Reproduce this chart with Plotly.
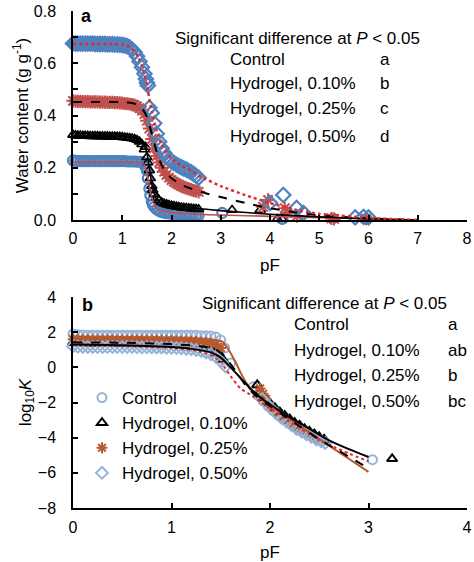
import plotly.graph_objects as go

# ---------------- Panel a : water retention data ----------------
PF_A = [0.00, 0.05, 0.10, 0.15, 0.20, 0.25, 0.30, 0.35, 0.40, 0.45, 0.50, 0.55, 0.60, 0.65,
        0.70, 0.75, 0.80, 0.85, 0.90, 0.95, 1.00, 1.05, 1.10, 1.15, 1.20, 1.25, 1.30, 1.35,
        1.40, 1.45, 1.50, 1.55, 1.60, 1.65, 1.70, 1.75, 1.80, 1.85, 1.90, 1.95, 2.00, 2.05,
        2.10, 2.15, 2.20, 2.25, 2.30, 2.35, 2.40, 2.45, 2.50, 2.55]

WC_CONTROL = [0.228, 0.226, 0.225, 0.225, 0.225, 0.225, 0.225, 0.225, 0.225, 0.225, 0.225, 0.225,
              0.225, 0.225, 0.225, 0.225, 0.225, 0.225, 0.225, 0.225, 0.225, 0.225, 0.224, 0.224,
              0.224, 0.224, 0.223, 0.223, 0.222,
              0.216, 0.19, 0.12, 0.07, 0.05, 0.04, 0.035, 0.03, 0.028, 0.026, 0.025, 0.024, 0.023,
              0.022, 0.021, 0.02, 0.02, 0.019, 0.019, 0.018, 0.018, 0.017, 0.017]
WC_H010 = [0.326, 0.324, 0.323, 0.323, 0.322, 0.322, 0.322, 0.321, 0.321, 0.321, 0.321, 0.320,
           0.320, 0.320, 0.320, 0.319, 0.319, 0.319, 0.318, 0.318, 0.317, 0.316, 0.315, 0.314, 0.312,
           0.31, 0.306, 0.30, 0.29, 0.27, 0.24, 0.19, 0.13, 0.10, 0.085, 0.075, 0.068, 0.063, 0.06,
           0.057, 0.055, 0.053, 0.051, 0.05, 0.048, 0.047, 0.046, 0.045, 0.044, 0.043, 0.042, 0.041]
WC_H025 = [0.456, 0.455, 0.454, 0.454, 0.453, 0.453, 0.453, 0.452, 0.452, 0.452, 0.452, 0.451,
           0.451, 0.451, 0.450, 0.450, 0.450, 0.449, 0.449, 0.448, 0.447, 0.446, 0.445, 0.444, 0.442,
           0.44, 0.435, 0.428, 0.42, 0.405, 0.38, 0.35, 0.31, 0.275, 0.245, 0.22, 0.20, 0.185, 0.172,
           0.162, 0.153, 0.146, 0.14, 0.135, 0.13, 0.126, 0.122, 0.119, 0.116, 0.113, 0.11, 0.108]
WC_H050 = [0.676, 0.675, 0.675, 0.675, 0.675, 0.675, 0.675, 0.675, 0.675, 0.674, 0.674, 0.674,
           0.674, 0.674, 0.673, 0.673, 0.673, 0.672, 0.672, 0.671, 0.670,
           0.668, 0.665, 0.66, 0.652, 0.642, 0.627, 0.607, 0.585, 0.56, 0.525, 0.43, 0.41, 0.37,
           0.33, 0.30, 0.275, 0.257, 0.243, 0.232, 0.224, 0.218, 0.212, 0.207, 0.202, 0.197, 0.193,
           0.188, 0.183, 0.176, 0.169, 0.162]

# extra (transition + dew-point) measurements
PF_CONTROL_X = [1.47, 1.52, 1.57, 1.62, 3.03, 4.25]
WC_CONTROL_X = [0.205, 0.16, 0.095, 0.06, 0.027, 0.004]
PF_H010_X = [1.47, 1.52, 1.57, 1.62, 3.23, 3.80, 4.15, 4.25, 5.95]
WC_H010_X = [0.28, 0.22, 0.16, 0.115, 0.038, 0.038, 0.004, 0.003, 0.002]
PF_H025_X = [3.86, 3.96, 4.30, 4.35, 4.55, 5.25, 5.30, 5.95]
WC_H025_X = [0.05, 0.077, 0.045, 0.027, 0.015, 0.006, 0.004, 0.005]
PF_H050_X = [1.48, 1.52, 4.00, 4.27, 4.54, 4.68, 5.73, 5.90, 6.00]
WC_H050_X = [0.54, 0.515, 0.065, 0.096, 0.046, 0.027, 0.01, 0.012, 0.01]

# fitted retention curves
FIT_CONTROL_PF = [0, 1.0, 1.3, 1.4, 1.45, 1.5, 1.55, 1.6, 1.65, 1.7, 1.8, 2.0, 2.5, 3.0, 4.0, 5.0, 6.0, 7.0]
FIT_CONTROL_WC = [0.222, 0.222, 0.221, 0.218, 0.21, 0.18, 0.13, 0.085, 0.058, 0.045, 0.035, 0.028,
                  0.022, 0.019, 0.014, 0.009, 0.004, 0.0]
FIT_H010_PF = [0, 1.0, 1.2, 1.3, 1.4, 1.45, 1.5, 1.55, 1.6, 1.65, 1.7, 1.8, 2.0, 2.5, 3.0, 4.0, 5.0, 6.0, 7.0]
FIT_H010_WC = [0.322, 0.321, 0.318, 0.312, 0.298, 0.285, 0.255, 0.2, 0.14, 0.1, 0.08, 0.065, 0.055,
               0.045, 0.036, 0.022, 0.012, 0.005, 0.0]
FIT_H025_PF = [0, 1.0, 1.2, 1.3, 1.4, 1.5, 1.6, 1.7, 1.8, 1.9, 2.0, 2.2, 2.4, 2.6, 3.0, 3.5, 4.0,
               4.5, 5.0, 6.0, 7.0]
FIT_H025_WC = [0.452, 0.451, 0.448, 0.442, 0.428, 0.395, 0.33, 0.26, 0.21, 0.18, 0.16, 0.135, 0.12,
               0.107, 0.088, 0.065, 0.045, 0.03, 0.018, 0.006, 0.0]
FIT_H050_PF = [0, 0.8, 1.0, 1.1, 1.2, 1.3, 1.4, 1.5, 1.6, 1.7, 1.8, 1.9, 2.0, 2.2, 2.4, 2.6, 3.0,
               3.5, 4.0, 4.5, 5.0, 6.0, 7.0]
FIT_H050_WC = [0.674, 0.673, 0.671, 0.666, 0.655, 0.632, 0.59, 0.515, 0.415, 0.34, 0.29, 0.258,
               0.235, 0.208, 0.188, 0.165, 0.13, 0.095, 0.065, 0.04, 0.024, 0.008, 0.0]

# ---------------- Panel b : hydraulic conductivity ----------------
PF_B = [0.00, 0.05, 0.10, 0.15, 0.20, 0.25, 0.30, 0.35, 0.40, 0.45, 0.50, 0.55, 0.60, 0.65,
        0.70, 0.75, 0.80, 0.85, 0.90, 0.95, 1.00, 1.05, 1.10, 1.15, 1.20, 1.25, 1.30, 1.35, 1.40]
K_CONTROL = [1.9, 1.85, 1.84, 1.83, 1.83, 1.83, 1.83, 1.83, 1.83, 1.83, 1.83, 1.83, 1.83, 1.83,
             1.83, 1.83, 1.83, 1.83, 1.83, 1.83, 1.83, 1.83, 1.83, 1.82, 1.82, 1.82, 1.8, 1.79, 1.78]
K_H010 = [1.4, 1.38, 1.37, 1.36, 1.36, 1.35, 1.35, 1.35, 1.35, 1.35, 1.35, 1.34, 1.34, 1.34, 1.34,
          1.33, 1.33, 1.33, 1.32, 1.32, 1.31, 1.3, 1.29, 1.28, 1.27, 1.25, 1.22, 1.18, 1.12]
K_H025 = [1.6, 1.58, 1.57, 1.57, 1.56, 1.56, 1.56, 1.56, 1.56, 1.55, 1.55, 1.55, 1.55, 1.55, 1.55,
          1.54, 1.54, 1.54, 1.53, 1.53, 1.52, 1.52, 1.51, 1.5, 1.49, 1.47, 1.45, 1.42, 1.38]
K_H050 = [1.2, 1.17, 1.16, 1.16, 1.16, 1.15, 1.15, 1.15, 1.15, 1.15, 1.15, 1.15, 1.15, 1.14, 1.14,
          1.14, 1.14, 1.13, 1.13, 1.12, 1.11, 1.1, 1.08, 1.06, 1.03, 0.99, 0.93, 0.85, 0.75]

PF_B_CONTROL_X = [1.45, 1.5, 1.54, 1.6, 1.83, 1.88, 1.93, 1.98, 2.03, 2.08, 2.13, 2.18, 2.23, 2.28,
                  2.33, 2.38, 2.43, 2.48, 2.53, 3.04]
K_CONTROL_X = [1.72, 1.55, 1.1, 0.25, -1.1, -1.6, -1.9, -2.2, -2.45, -2.7, -2.9, -3.1, -3.3, -3.45,
               -3.6, -3.75, -3.9, -4.05, -4.2, -5.25]
PF_B_H010_X = [1.45, 1.48, 1.52, 1.87, 1.9, 1.95, 2.0, 2.05, 2.1, 2.15, 2.2, 2.25, 2.3, 2.35, 2.4,
               2.45, 2.5, 2.55, 3.24]
K_H010_X = [1.0, 0.8, 0.45, -1.0, -1.4, -1.75, -2.05, -2.3, -2.55, -2.75, -2.95, -3.15, -3.3, -3.5,
            -3.65, -3.8, -3.95, -4.1, -5.2]
PF_B_H025_X = [1.45, 1.5, 1.9, 1.93, 1.96, 2.0, 2.05, 2.1, 2.15, 2.2, 2.25, 2.3, 2.35, 2.4, 2.45, 2.5]
K_H025_X = [1.3, 1.1, -1.2, -1.5, -1.8, -2.2, -2.5, -2.75, -2.95, -3.15, -3.35, -3.5, -3.65, -3.8,
            -3.95, -4.1]
PF_B_H050_X = [1.45, 1.5, 1.55, 1.92, 1.97, 2.02, 2.07, 2.12, 2.17, 2.22, 2.27, 2.32, 2.37, 2.42,
               2.47, 2.52, 2.56]
K_H050_X = [0.6, 0.35, 0.05, -1.8, -2.1, -2.4, -2.65, -2.9, -3.1, -3.3, -3.5, -3.65, -3.8, -3.95,
            -4.1, -4.2, -4.3]

# fitted conductivity curves
KF_BROWN_PF = [0, 0.5, 1.0, 1.3, 1.45, 1.52, 1.58, 1.65, 1.72, 1.8, 1.9, 2.0, 2.2, 2.4, 2.6, 2.8, 3.0]
KF_BROWN = [1.65, 1.65, 1.63, 1.6, 1.55, 1.45, 1.0, 0.3, -0.5, -1.2, -1.75, -2.2, -2.95, -3.7,
            -4.45, -5.2, -5.95]
KF_BLACK_PF = [0, 0.5, 1.0, 1.2, 1.4, 1.5, 1.6, 1.7, 1.8, 1.9, 2.0, 2.2, 2.4, 2.6, 2.8, 3.0]
KF_BLACK = [1.3, 1.25, 1.15, 1.05, 0.85, 0.55, 0.0, -0.6, -1.2, -1.7, -2.1, -2.85, -3.5, -4.15,
            -4.65, -5.1]
KF_DASH_PF = [0, 0.5, 1.0, 1.3, 1.45, 1.55, 1.65, 1.75, 1.85, 1.95, 2.1, 2.3, 2.5, 2.7, 3.0]
KF_DASH = [1.42, 1.4, 1.32, 1.2, 1.0, 0.55, -0.2, -1.0, -1.6, -2.0, -2.6, -3.35, -4.1, -4.75, -5.75]
KF_DOT_PF = [0, 0.5, 1.0, 1.25, 1.4, 1.5, 1.6, 1.7, 1.8, 1.9, 2.0, 2.2, 2.4, 2.6, 2.8, 3.0]
KF_DOT = [1.25, 1.2, 1.1, 0.95, 0.7, 0.3, -0.5, -1.2, -1.55, -1.95, -2.35, -3.1, -3.8, -4.4, -4.9,
          -5.35]

# ---------------- text ----------------
SERIES_NAMES = ["Control", "Hydrogel, 0.10%", "Hydrogel, 0.25%", "Hydrogel, 0.50%"]
LETTERS_A = ["a", "b", "c", "d"]
LETTERS_B = ["a", "ab", "b", "bc"]
SIG_TEXT = "Significant difference at <i>P</i> < 0.05"
YA_TICKS = [0.0, 0.2, 0.4, 0.6, 0.8]
XA_TICKS = [0, 1, 2, 3, 4, 5, 6, 7, 8]
XB_TICKS = [0, 1, 2, 3, 4]
YB_TICKS = [4, 2, 0, -2, -4, -6, -8]

# ---------------- styling ----------------
FONT = "Liberation Sans, Arial, sans-serif"
BLUE = "#4F81BD"
RED = "#C0504D"
LBLUE = "#95B3D7"
BROWN = "#B8582E"
DOTRED = "#E8272A"

W, H = 474, 562
L, R, T, B = 73, 467, 11, 508


def px(x):
    return (x - L) / (R - L)


def py(y):
    return (B - y) / (B - T)


fig = go.Figure()

# panel a markers
fig.add_trace(go.Scatter(x=PF_A + PF_CONTROL_X, y=WC_CONTROL + WC_CONTROL_X, mode="markers",
                         marker=dict(symbol="circle-open", size=10, color=BLUE, line=dict(width=2.2)),
                         showlegend=False, cliponaxis=False, xaxis="x", yaxis="y"))
fig.add_trace(go.Scatter(x=PF_A + PF_H010_X, y=WC_H010 + WC_H010_X, mode="markers",
                         marker=dict(symbol="triangle-up-open", size=9, color="black", line=dict(width=1.6)),
                         showlegend=False, cliponaxis=False, xaxis="x", yaxis="y"))
fig.add_trace(go.Scatter(x=PF_A + PF_H025_X, y=WC_H025 + WC_H025_X, mode="markers",
                         marker=dict(symbol="asterisk-open", size=11, color=RED, line=dict(width=2, color=RED)),
                         showlegend=False, cliponaxis=False, xaxis="x", yaxis="y"))
fig.add_trace(go.Scatter(x=PF_A + PF_H050_X, y=WC_H050 + WC_H050_X, mode="markers",
                         marker=dict(symbol="diamond-open", size=11, color=BLUE, line=dict(width=2.2)),
                         showlegend=False, cliponaxis=False, xaxis="x", yaxis="y"))
# panel a fitted lines
fig.add_trace(go.Scatter(x=FIT_CONTROL_PF, y=FIT_CONTROL_WC, mode="lines",
                         line=dict(color=RED, width=1.6, shape="spline", smoothing=0.6),
                         showlegend=False, xaxis="x", yaxis="y"))
fig.add_trace(go.Scatter(x=FIT_H010_PF, y=FIT_H010_WC, mode="lines",
                         line=dict(color="black", width=1.6, shape="spline", smoothing=0.6),
                         showlegend=False, xaxis="x", yaxis="y"))
fig.add_trace(go.Scatter(x=FIT_H025_PF, y=FIT_H025_WC, mode="lines",
                         line=dict(color="black", width=2, dash="dash", shape="spline", smoothing=0.6),
                         showlegend=False, xaxis="x", yaxis="y"))
fig.add_trace(go.Scatter(x=FIT_H050_PF, y=FIT_H050_WC, mode="lines",
                         line=dict(color=DOTRED, width=2.5, dash="dot", shape="spline", smoothing=0.6),
                         showlegend=False, xaxis="x", yaxis="y"))

# panel b markers (legend)
fig.add_trace(go.Scatter(x=PF_B + PF_B_CONTROL_X, y=K_CONTROL + K_CONTROL_X, mode="markers",
                         name=SERIES_NAMES[0], legendgroup="g1",
                         marker=dict(symbol="circle-open", size=9, color=LBLUE, line=dict(width=2)),
                         cliponaxis=False, xaxis="x2", yaxis="y2"))
fig.add_trace(go.Scatter(x=PF_B + PF_B_H010_X, y=K_H010 + K_H010_X, mode="markers",
                         name=SERIES_NAMES[1], legendgroup="g2",
                         marker=dict(symbol="triangle-up-open", size=9, color="black", line=dict(width=2)),
                         cliponaxis=False, xaxis="x2", yaxis="y2"))
fig.add_trace(go.Scatter(x=PF_B + PF_B_H025_X, y=K_H025 + K_H025_X, mode="markers",
                         name=SERIES_NAMES[2], legendgroup="g3",
                         marker=dict(symbol="asterisk-open", size=9, color=BROWN, line=dict(width=2, color=BROWN)),
                         cliponaxis=False, xaxis="x2", yaxis="y2"))
fig.add_trace(go.Scatter(x=PF_B + PF_B_H050_X, y=K_H050 + K_H050_X, mode="markers",
                         name=SERIES_NAMES[3], legendgroup="g4",
                         marker=dict(symbol="diamond-open", size=9, color=LBLUE, line=dict(width=2)),
                         cliponaxis=False, xaxis="x2", yaxis="y2"))
# panel b fitted lines
fig.add_trace(go.Scatter(x=KF_BROWN_PF, y=KF_BROWN, mode="lines",
                         line=dict(color=BROWN, width=2, shape="spline", smoothing=0.6),
                         showlegend=False, xaxis="x2", yaxis="y2"))
fig.add_trace(go.Scatter(x=KF_DOT_PF, y=KF_DOT, mode="lines",
                         line=dict(color=DOTRED, width=2, dash="dot", shape="spline", smoothing=0.6),
                         showlegend=False, xaxis="x2", yaxis="y2"))
fig.add_trace(go.Scatter(x=KF_DASH_PF, y=KF_DASH, mode="lines",
                         line=dict(color="black", width=2, dash="dash", shape="spline", smoothing=0.6),
                         showlegend=False, xaxis="x2", yaxis="y2"))
fig.add_trace(go.Scatter(x=KF_BLACK_PF, y=KF_BLACK, mode="lines",
                         line=dict(color="black", width=2, shape="spline", smoothing=0.6),
                         showlegend=False, xaxis="x2", yaxis="y2"))

axis_common = dict(showline=True, linecolor="black", linewidth=1.5, ticks="inside", ticklen=5,
                   tickwidth=1.5, tickcolor="black", showgrid=False, zeroline=False,
                   automargin=False, ticklabeloverflow="allow",
                   tickfont=dict(family=FONT, size=16, color="black"),
                   title_font=dict(family=FONT, size=17, color="black"))

fig.update_layout(
    width=W, height=H, autosize=False,
    margin=dict(l=L, r=W - R, t=T, b=H - B, pad=0),
    paper_bgcolor="white", plot_bgcolor="white",
    font=dict(family=FONT, size=16, color="black"),
    xaxis=dict(domain=[0, 1], anchor="y", range=[0, 8], tickvals=XA_TICKS,
               title=dict(text="pF", standoff=13), ticklabelstandoff=3, **axis_common),
    yaxis=dict(domain=[py(220), 1], anchor="x", range=[0, 0.8], tickvals=YA_TICKS,
               tickformat=".1f",
               minor=dict(dtick=0.1, ticks="inside", ticklen=5, tickwidth=1.5, tickcolor="black",
                          showgrid=False),
               title=dict(text="Water content (g g<sup>-1</sup>)", standoff=1),
               ticklabelstandoff=12, **axis_common),
    xaxis2=dict(domain=[0, 1], anchor="y2", range=[0, 4], tickvals=XB_TICKS,
                title=dict(text="pF", standoff=13), ticklabelstandoff=4, **axis_common),
    yaxis2=dict(domain=[0, py(297)], anchor="x2", range=[-8, 4], tickvals=YB_TICKS,
                title=dict(text="log<sub>10</sub><i>K</i>", standoff=2),
                ticklabelstandoff=12, **axis_common),
    legend=dict(x=px(82), y=py(380), xanchor="left", yanchor="top", bgcolor="rgba(0,0,0,0)",
                font=dict(family=FONT, size=17, color="black"), tracegroupgap=5,
                itemwidth=30, traceorder="normal"),
)

ann = []
ann.append(dict(text="<b>a</b>", x=px(79), y=py(16), xanchor="left", yanchor="middle", font_size=18))
ann.append(dict(text="<b>b</b>", x=px(80), y=py(305), xanchor="left", yanchor="middle", font_size=18))
ann.append(dict(text=SIG_TEXT, x=px(173), y=py(38), xanchor="left", yanchor="middle"))
ann.append(dict(text=SIG_TEXT, x=px(200), y=py(303), xanchor="left", yanchor="middle"))
for name, la, ya in zip(SERIES_NAMES, LETTERS_A, [60, 84, 109, 136]):
    ann.append(dict(text=name, x=px(228), y=py(ya), xanchor="left", yanchor="middle"))
    ann.append(dict(text=la, x=px(378), y=py(ya), xanchor="left", yanchor="middle"))
for name, lb, yb in zip(SERIES_NAMES, LETTERS_B, [325, 350, 375, 402]):
    ann.append(dict(text=name, x=px(292), y=py(yb), xanchor="left", yanchor="middle"))
    ann.append(dict(text=lb, x=px(446), y=py(yb), xanchor="left", yanchor="middle"))
for a in ann:
    a.update(xref="paper", yref="paper", showarrow=False)
    a.setdefault("font_size", 17)
    fs = a.pop("font_size")
    a["font"] = dict(family=FONT, size=fs, color="black")
fig.update_layout(annotations=ann)

# remove the browser's default page margin so the figure sits at the window's corner
fig.write_html("out.html", config={"displayModeBar": False},
               post_script="document.body.style.margin='0';")
